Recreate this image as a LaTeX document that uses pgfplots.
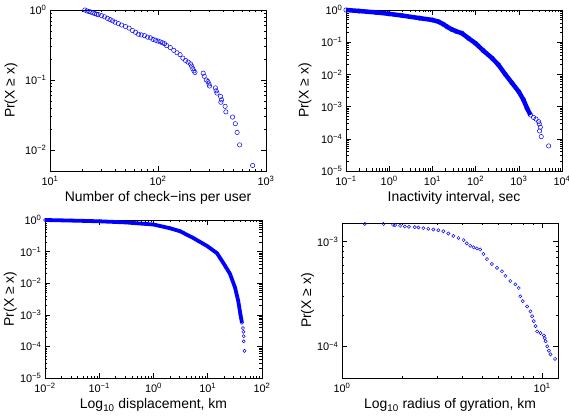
\documentclass[border=0pt]{standalone}
\usepackage{pgfplots}
\pgfplotsset{compat=1.18}
\usepackage{fontspec}
\setmainfont{Liberation Sans}
\newcommand{\tl}[1]{10\textsuperscript{#1}}
\pgfplotsset{
  every axis/.append style={scale only axis, clip=false,
    axis line style={line width=0.7pt},
    tick style={line width=0.5pt, black},
    major tick length=5bp, minor tick length=2.5bp,
    xticklabel style={font=\fontsize{11}{11}\selectfont, yshift=-2bp},
    yticklabel style={font=\fontsize{11}{11}\selectfont},
    xlabel style={font=\fontsize{14}{14}\selectfont, yshift=1bp},
    ylabel style={font=\fontsize{14}{14}\selectfont, anchor=center},
    ylabel={Pr(X ≥ x)}},
}
\begin{document}
\begin{tikzpicture}
\useasboundingbox (0,0) rectangle (569bp,417bp);

% top left
\begin{loglogaxis}[at={(50bp,246bp)}, anchor=south west, width=216bp, height=161bp,
  xmin=10, xmax=1000, ymin=0.005, ymax=1,
  xtick={10,100,1000}, xticklabels={\tl{1},\tl{2},\tl{3}},
  ytick={0.01,0.1,1}, yticklabels={\tl{−2},\tl{−1},\tl{0}},
  ylabel style={at={(axis description cs:-0.18,0.5)}},
  xlabel={Number of check−ins per user}]
\addplot[only marks, mark=o, color=blue, mark size=2.2pt, mark options={line width=0.5pt}] coordinates {
(21,1.0) (22,0.97) (23,0.95) (24,0.93) (25,0.91) (26,0.89) (27,0.87) (28,0.86)
(30,0.83) (32,0.80) (34,0.76) (36,0.73) (38,0.70) (40,0.67) (43,0.64) (46,0.61)
(50,0.58) (54,0.55) (58,0.51) (62,0.48) (66,0.45) (70,0.44) (75,0.43) (80,0.41)
(85,0.40) (90,0.38) (95,0.37) (100,0.36) (105,0.35) (110,0.34) (115,0.33) (120,0.31)
(130,0.29) (140,0.265) (150,0.245) (160,0.23) (170,0.205) (180,0.19) (190,0.18)
(200,0.17) (205,0.158) (210,0.145) (215,0.135) (220,0.128)
(262,0.125) (268,0.113) (280,0.10) (290,0.095) (296,0.088) (300,0.082)
(340,0.077) (345,0.07) (352,0.065) (380,0.058) (388,0.052) (382,0.048)
(418,0.042) (425,0.035) (490,0.0295) (520,0.0237) (540,0.0178) (570,0.0118) (752,0.006)
};
\end{loglogaxis}

% top right
\begin{loglogaxis}[at={(346bp,246bp)}, anchor=south west, width=216bp, height=161bp,
  xmin=0.1, xmax=10000, ymin=1e-5, ymax=1,
  xtick={0.1,1,10,100,1000,10000}, xticklabels={\tl{−1},\tl{0},\tl{1},\tl{2},\tl{3},\tl{4}},
  ytick={1e-5,1e-4,1e-3,1e-2,1e-1,1}, yticklabels={\tl{−5},\tl{−4},\tl{−3},\tl{−2},\tl{−1},\tl{0}},
  ylabel style={at={(axis description cs:-0.19,0.5)}},
  xlabel={Inactivity interval, sec}]
\addplot[color=blue, line width=4.5bp, mark=o, mark size=2.2pt, mark options={line width=0.5pt}] coordinates {
(0.1,1.0) (0.2,0.93) (0.5,0.84) (1,0.76) (2,0.67) (5,0.56) (10,0.49) (14,0.43)
(18,0.36) (22,0.30) (28,0.25) (35,0.22) (48,0.19) (70,0.13) (100,0.092) (150,0.055)
(240,0.032) (340,0.0196) (485,0.0101) (690,0.0055) (1000,0.0029) (1290,0.0016)
(1550,0.00089) (1860,0.00055)
};
\addplot[only marks, mark=o, color=blue, mark size=2.2pt, mark options={line width=0.5pt}] coordinates {
(2200,4.6e-4) (2500,4.1e-4) (2880,3.4e-4) (2980,2.9e-4) (3150,2.3e-4)
(3030,1.75e-4) (3310,1.17e-4) (4910,6.0e-5)
};
\end{loglogaxis}

% bottom left
\begin{loglogaxis}[at={(45bp,39bp)}, anchor=south west, width=217bp, height=158bp,
  xmin=0.01, xmax=100, ymin=1e-5, ymax=1,
  xtick={0.01,0.1,1,10,100}, xticklabels={\tl{−2},\tl{−1},\tl{0},\tl{1},\tl{2}},
  ytick={1e-5,1e-4,1e-3,1e-2,1e-1,1}, yticklabels={\tl{−5},\tl{−4},\tl{−3},\tl{−2},\tl{−1},\tl{0}},
  ylabel style={at={(axis description cs:-0.16,0.5)}},
  xlabel={Log\textsubscript{10} displacement, km}]
\addplot[color=blue, line width=3.8bp, mark=o, mark size=1.6pt, mark options={line width=0.5pt}] coordinates {
(0.01,1.0) (0.03,0.96) (0.1,0.91) (0.3,0.84) (1,0.72) (2,0.55) (3.1,0.44) (5.4,0.27)
(10,0.146) (14.8,0.089) (19.5,0.043) (25.6,0.02) (31.7,0.0075) (36.4,0.0028)
(40,0.00104) (42.7,0.00056)
};
\addplot[only marks, mark=o, color=blue, mark size=1.6pt, mark options={line width=0.5pt}] coordinates {
(44.6,3.8e-4) (45.5,2.9e-4) (46,2.1e-4) (46,1.45e-4) (47.6,7.2e-5)
};
\end{loglogaxis}

% bottom right
\begin{loglogaxis}[at={(342bp,39bp)}, anchor=south west, width=216bp, height=155bp,
  xmin=1, xmax=12, ymin=5e-5, ymax=1.5e-3,
  xtick={1,10}, xticklabels={\tl{0},\tl{1}},
  ytick={1e-4,1e-3}, yticklabels={\tl{−4},\tl{−3}},
  ylabel style={at={(axis description cs:-0.16,0.5)}},
  xlabel={Log\textsubscript{10} radius of gyration, km}]
\addplot[only marks, mark=o, color=blue, mark size=1.6pt, mark options={line width=0.5pt}] coordinates {
(1.30,1.47e-3) (1.61,1.47e-3) (1.80,1.44e-3) (1.84,1.43e-3) (1.95,1.41e-3)
(2.06,1.39e-3) (2.16,1.38e-3) (2.31,1.37e-3) (2.41,1.36e-3) (2.55,1.34e-3)
(2.70,1.32e-3) (2.86,1.30e-3) (3.03,1.28e-3) (3.21,1.25e-3) (3.40,1.19e-3)
(3.60,1.13e-3) (3.82,1.08e-3) (4.05,1.03e-3) (4.20,9.6e-4) (4.37,9.1e-4)
(4.54,8.8e-4) (4.72,8.6e-4) (4.90,8.4e-4) (5.09,7.6e-4) (5.30,6.8e-4)
(5.61,6.1e-4) (5.95,5.6e-4) (6.30,5.2e-4) (6.55,4.7e-4) (6.93,4.2e-4)
(7.35,3.9e-4) (7.64,3.6e-4) (7.78,3.0e-4) (8.0,2.7e-4) (8.41,2.4e-4)
(8.74,2.16e-4) (8.91,1.94e-4) (9.08,1.74e-4) (9.26,1.56e-4) (9.44,1.39e-4)
(9.81,1.34e-4) (10.2,1.27e-4) (10.3,1.2e-4) (10.4,1.12e-4) (10.6,1.0e-4)
(10.8,9.1e-5) (11.0,8.4e-5) (11.6,7.6e-5)
};
\end{loglogaxis}
\end{tikzpicture}
\end{document}
